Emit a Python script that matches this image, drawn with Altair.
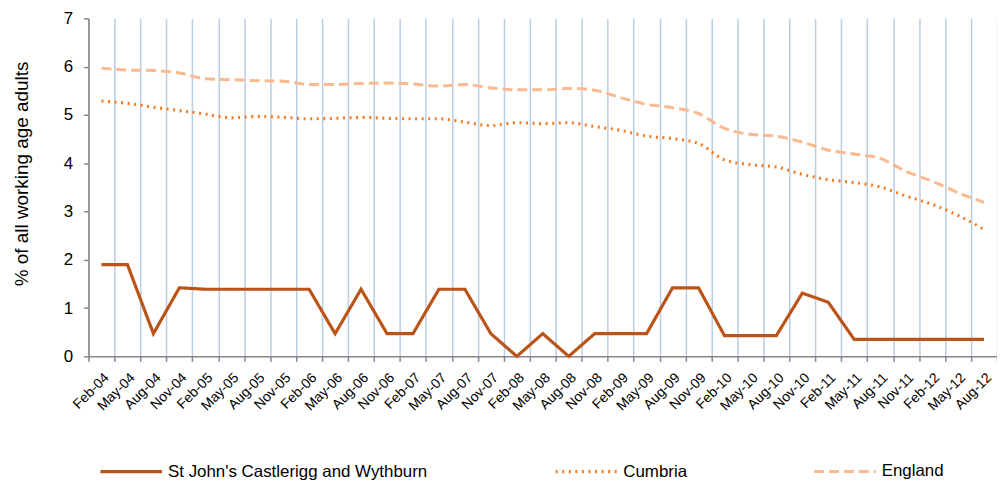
import altair as alt
import pandas as pd

months = ["Feb-04","May-04","Aug-04","Nov-04","Feb-05","May-05","Aug-05","Nov-05",
          "Feb-06","May-06","Aug-06","Nov-06","Feb-07","May-07","Aug-07","Nov-07",
          "Feb-08","May-08","Aug-08","Nov-08","Feb-09","May-09","Aug-09","Nov-09",
          "Feb-10","May-10","Aug-10","Nov-10","Feb-11","May-11","Aug-11","Nov-11",
          "Feb-12","May-12","Aug-12"]

local = [1.90,1.90,0.47,1.42,1.39,1.39,1.39,1.39,1.39,0.47,1.39,0.47,0.47,1.39,1.39,0.47,
         0.0,0.47,0.0,0.47,0.47,0.47,1.42,1.42,0.43,0.43,0.43,1.31,1.12,0.35,0.35,0.35,
         0.35,0.35,0.35]
cumbria = [5.29,5.24,5.16,5.09,5.02,4.94,4.97,4.95,4.92,4.93,4.95,4.93,4.92,4.92,4.85,4.78,
           4.84,4.82,4.84,4.76,4.68,4.56,4.51,4.41,4.07,3.97,3.92,3.77,3.66,3.60,3.51,3.32,
           3.15,2.92,2.63]
england = [5.97,5.93,5.92,5.87,5.75,5.73,5.71,5.70,5.63,5.63,5.65,5.66,5.64,5.60,5.63,5.56,
           5.52,5.52,5.55,5.51,5.36,5.22,5.15,5.03,4.72,4.60,4.56,4.44,4.27,4.19,4.10,3.83,
           3.63,3.39,3.19]

series_names = ["St John's Castlerigg and Wythburn", "Cumbria", "England"]
series_colors = ["#BA5418", "#F47B20", "#FAB98F"]
series_dash = [[1, 0], [2, 4.6], [10, 5]]
series_width = [3.2, 3, 4]

rows = []
for name, vals in zip(series_names, [local, cumbria, england]):
    for m, v in zip(months, vals):
        rows.append({"month": m, "value": v, "series": name})
df = pd.DataFrame(rows)

FONT = "Liberation Sans"

x = alt.X("month:N", sort=months, title=None,
          scale=alt.Scale(type="band", paddingInner=0, paddingOuter=0),
          axis=alt.Axis(tickBand="extent", grid=True, gridColor="#B9CDE5", gridWidth=1.5,
                        domainColor="#868686", domainWidth=1.5, tickColor="#868686",
                        tickWidth=1.5, tickSize=5, labelAngle=-45, labelAlign="right",
                        labelBaseline="top", labelPadding=9, labelFontSize=14,
                        labelColor="#000000", labelFont=FONT))
y = alt.Y("value:Q", title="% of all working age adults",
          scale=alt.Scale(domain=[0, 7], nice=False, zero=True),
          axis=alt.Axis(values=[0, 1, 2, 3, 4, 5, 6, 7], grid=False, domainColor="#868686",
                        domainWidth=1.5, tickColor="#868686", tickWidth=1.5, tickSize=5,
                        labelPadding=11, labelFontSize=17, labelColor="#000000",
                        labelFont=FONT, titleFont=FONT, titleFontSize=19,
                        titleFontWeight="normal", titleColor="#000000",
                        titleX=-57, titleY=156, titleAngle=270, titleAlign="center",
                        titleBaseline="bottom", zindex=2))

color = alt.Color("series:N", scale=alt.Scale(domain=series_names, range=series_colors),
                  legend=alt.Legend(title=None, orient="none", legendX=10, legendY=423,
                                    direction="horizontal", columns=3, columnPadding=121,
                                    symbolType="stroke", symbolSize=3844,
                                    labelFontSize=17, labelFont=FONT, labelColor="#000000",
                                    labelOffset=4, labelLimit=500))
dash = alt.StrokeDash("series:N", scale=alt.Scale(domain=series_names, range=series_dash),
                      legend=None)
width = alt.StrokeWidth("series:N", scale=alt.Scale(domain=series_names, range=series_width),
                        legend=None)

base = alt.Chart(df)
regional = base.transform_filter(alt.datum.series != series_names[0]).mark_line(
    interpolate="monotone").encode(x=x, y=y, color=color, strokeDash=dash,
                                   strokeWidth=width)
loc = base.transform_filter(alt.datum.series == series_names[0]).mark_line(
    strokeJoin="miter").encode(x=x, y=y, color=color, strokeDash=dash, strokeWidth=width)

chart = alt.layer(regional, loc).properties(
    width=914, height=340,
    autosize=alt.AutoSizeParams(type="none"),
    padding={"left": 81, "top": 9, "right": 0, "bottom": 131},
).configure_view(stroke=None).configure_legend(symbolStrokeWidth=3.2)

chart.save("out.html", embed_options={"renderer": "svg", "actions": False})
